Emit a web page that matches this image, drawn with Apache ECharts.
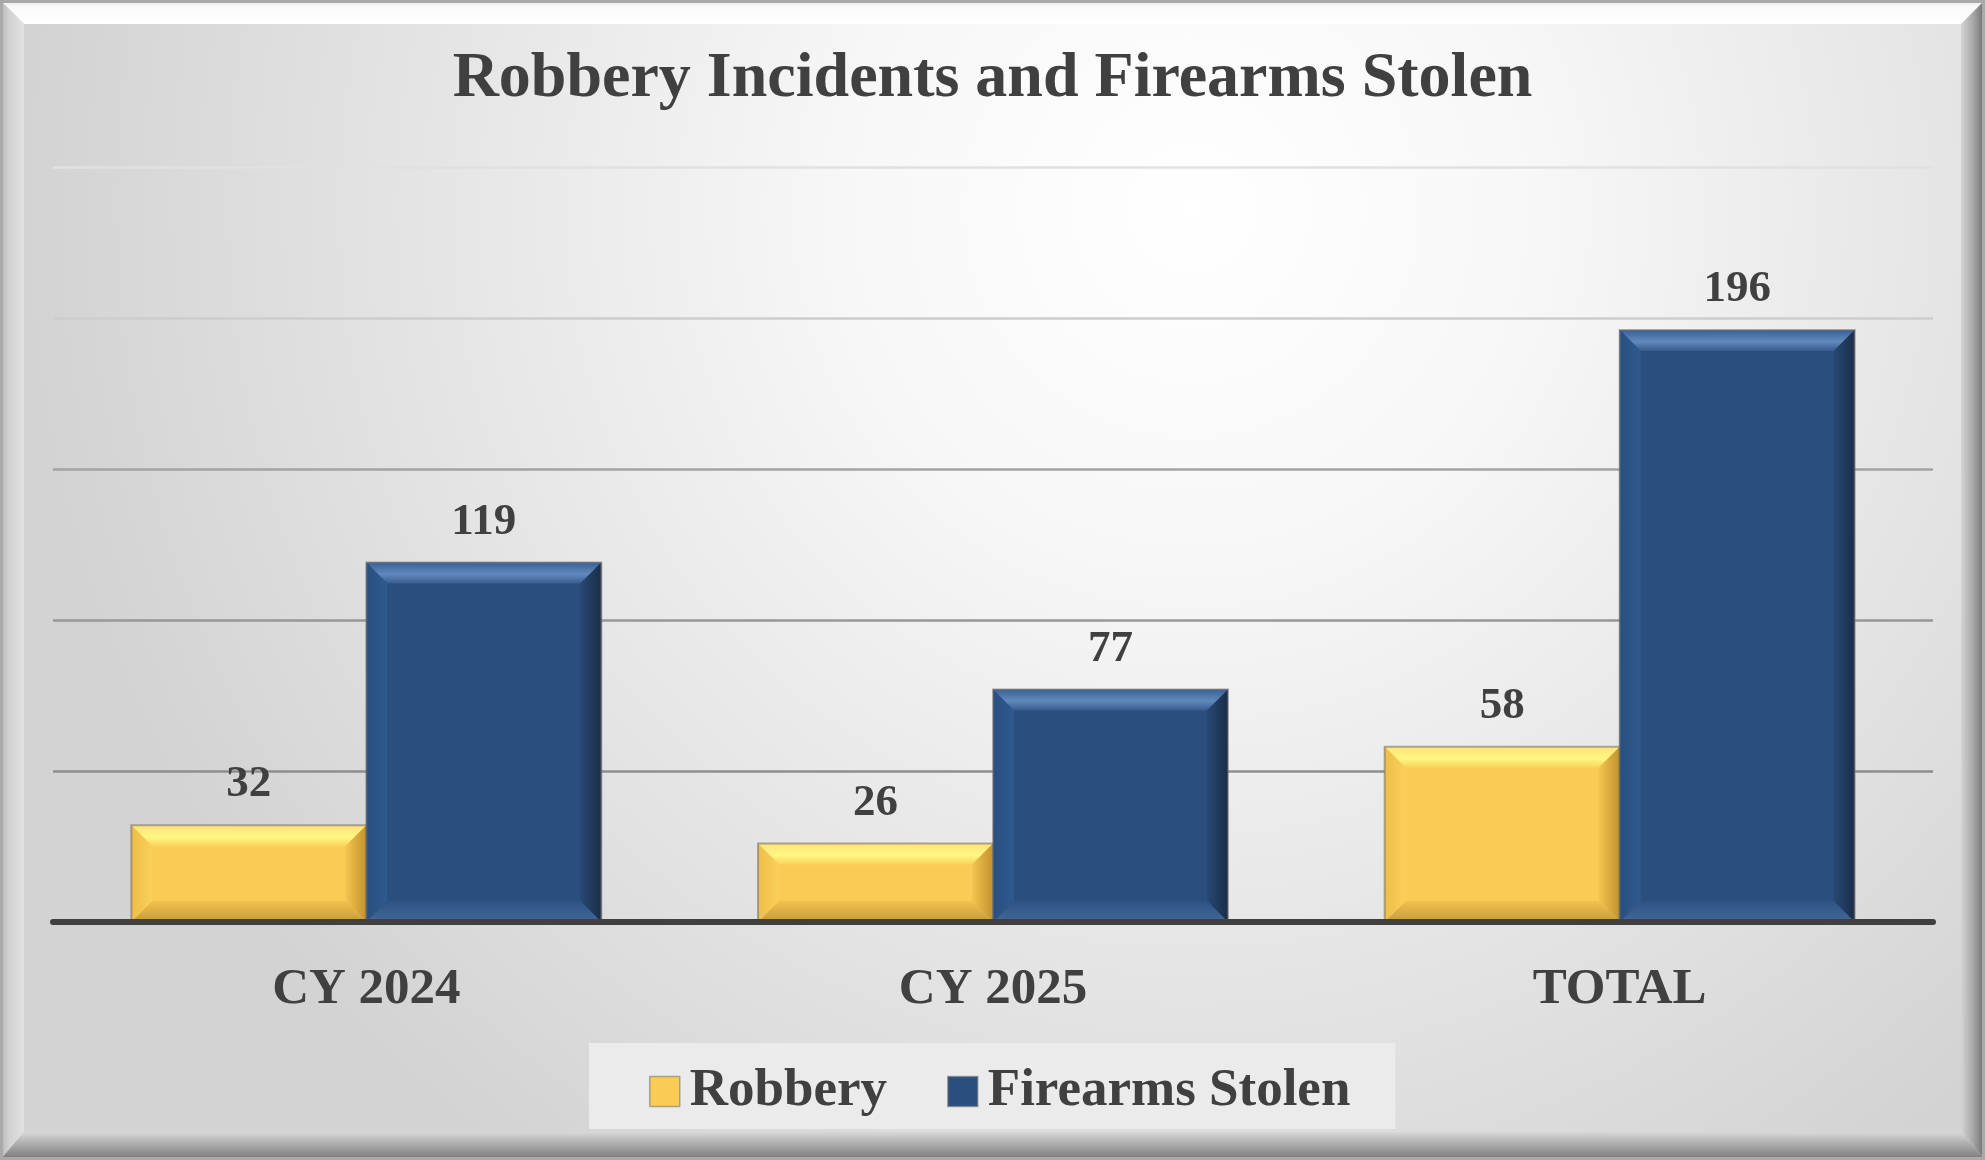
<!DOCTYPE html>
<html>
<head>
<meta charset="utf-8">
<script src="https://cdn.jsdelivr.net/npm/echarts@6/dist/echarts.min.js"></script>
<style>
html,body{margin:0;padding:0;background:#ffffff;}
#chart{width:1985px;height:1160px;}
</style>
</head>
<body>
<div id="chart"></div>
<script>
// ---- data ----
const titleText = 'Robbery Incidents and Firearms Stolen';
const categories = ['CY 2024', 'CY 2025', 'TOTAL'];
const seriesNames = ['Robbery', 'Firearms Stolen'];
const robbery = [32, 26, 58];
const firearmsStolen = [119, 77, 196];
const axisMax = 250;
const axisInterval = 50;

// ---- styles ----
const W = 1985, H = 1160;
const FONT = '"Liberation Serif", "DejaVu Serif", serif';
const TEXT = '#404040';
const faceColors = ['#FACC55', '#2A4E7E'];

function lin(x, y, x2, y2, stops) {
  return { type: 'linear', x: x, y: y, x2: x2, y2: y2,
    colorStops: stops.map(s => ({ offset: s[0], color: s[1] })) };
}
const bevelStyles = [
  { // yellow
    top: lin(0, 0, 0, 1, [[0, '#FFE27A'], [0.55, '#FFF784'], [1, '#F9D35A']]),
    left: lin(0, 0, 1, 0, [[0, '#EDBD48'], [1, '#FBD05A']]),
    right: lin(0, 0, 1, 0, [[0, '#F3C650'], [1, '#C2922E']]),
    bottom: lin(0, 0, 0, 1, [[0, '#F0C24E'], [1, '#C99A38']])
  },
  { // blue
    top: lin(0, 0, 0, 1, [[0, '#3A6196'], [0.55, '#6289BE'], [1, '#365B8D']]),
    left: lin(0, 0, 1, 0, [[0, '#2A4F80'], [1, '#2F5A8E']]),
    right: lin(0, 0, 1, 0, [[0, '#284873'], [1, '#1A2D48']]),
    bottom: lin(0, 0, 0, 1, [[0, '#2D5383'], [1, '#43679A']])
  }
];

function bevelRenderer(sIdx) {
  return function (params, api) {
    const idx = api.value(0), val = api.value(1);
    const top = api.coord([idx, val]);
    const base = api.coord([idx, 0]);
    const band = api.size([1, 0])[0];
    const bw = band * 0.375;
    const x0 = sIdx === 0 ? top[0] - bw : top[0];
    const x1 = x0 + bw;
    const y0 = top[1], y1 = base[1];
    const b = Math.min(21, (y1 - y0) / 2, bw / 2);
    const st = bevelStyles[sIdx];
    return {
      type: 'group',
      children: [
        { type: 'polygon', shape: { points: [[x0, y0], [x1, y0], [x1 - b, y0 + b], [x0 + b, y0 + b]] }, style: { fill: st.top } },
        { type: 'polygon', shape: { points: [[x0, y0], [x0 + b, y0 + b], [x0 + b, y1 - b], [x0, y1]] }, style: { fill: st.left } },
        { type: 'polygon', shape: { points: [[x1, y0], [x1, y1], [x1 - b, y1 - b], [x1 - b, y0 + b]] }, style: { fill: st.right } },
        { type: 'polygon', shape: { points: [[x0, y1], [x0 + b, y1 - b], [x1 - b, y1 - b], [x1, y1]] }, style: { fill: st.bottom } },
        { type: 'rect', shape: { x: x0, y: y0, width: bw, height: y1 - y0 }, style: { fill: 'none', stroke: 'rgba(110,110,110,0.55)', lineWidth: 2 } }
      ]
    };
  };
}

// frame graphics
const fw = 24, fb = 28;
const frame = [
  { type: 'rect', z: -30, shape: { x: 0, y: 0, width: W, height: H },
    style: { fill: { type: 'radial', x: 0.6, y: 0.18, r: 1.0,
      colorStops: [{ offset: 0, color: '#ffffff' }, { offset: 0.3, color: '#f7f7f7' }, { offset: 0.75, color: '#e0e0e0' }, { offset: 1, color: '#d3d3d3' }] } } },
  { type: 'polygon', z: -20, shape: { points: [[0, 0], [W, 0], [W - fw, fw], [fw, fw]] },
    style: { fill: lin(0, 0, 0, 1, [[0, '#e6e6e6'], [0.3, '#fafafa'], [1, '#ffffff']]) } },
  { type: 'polygon', z: -20, shape: { points: [[0, 0], [fw, fw], [fw, H - fb], [0, H]] },
    style: { fill: lin(0, 0, 1, 0, [[0, '#b8b8b8'], [0.4, '#d2d2d2'], [1, '#e2e2e2']]) } },
  { type: 'polygon', z: -20, shape: { points: [[W, 0], [W, H], [W - fw, H - fb], [W - fw, fw]] },
    style: { fill: lin(0, 0, 1, 0, [[0, '#d4d4d4'], [0.5, '#a8a8a8'], [1, '#6a6a6a']]) } },
  { type: 'polygon', z: -20, shape: { points: [[0, H], [fw, H - fb], [W - fw, H - fb], [W, H]] },
    style: { fill: lin(0, 0, 0, 1, [[0, '#d8d8d8'], [0.5, '#a6a6a6'], [1, '#777777']]) } },
  { type: 'rect', z: -10, shape: { x: 1.5, y: 1.5, width: W - 3, height: H - 3 },
    style: { fill: 'none', stroke: '#a9a9a9', lineWidth: 3 } }
];

const chart = echarts.init(document.getElementById('chart'), null, { renderer: 'canvas' });
chart.setOption({
  backgroundColor: 'transparent',
  animation: false,
  textStyle: { fontFamily: FONT },
  graphic: { elements: frame },
  title: {
    text: titleText,
    left: 'center',
    top: 42,
    textStyle: { fontFamily: FONT, fontWeight: 'bold', fontSize: 64, lineHeight: 64, color: TEXT }
  },
  legend: {
    data: seriesNames,
    left: 589,
    top: 1043,
    backgroundColor: '#ebebeb',
    padding: [22, 45, 11, 60],
    itemWidth: 30,
    itemHeight: 30,
    itemGap: 60,
    icon: 'rect',
    itemStyle: { borderColor: 'rgba(120,120,120,0.6)', borderWidth: 1.5 },
    textStyle: { fontFamily: FONT, fontWeight: 'bold', fontSize: 53, lineHeight: 52, color: TEXT, padding: [0, 0, 0, 5] }
  },
  grid: { left: 53, right: 52, top: 167, bottom: 238, containLabel: false },
  xAxis: {
    type: 'category',
    data: categories,
    axisLine: { show: true, lineStyle: { color: '#404040', width: 6 } },
    axisTick: { show: false },
    axisLabel: { margin: 42, fontFamily: FONT, fontWeight: 'bold', fontSize: 51, lineHeight: 51, color: TEXT },
    z: 5
  },
  yAxis: {
    type: 'value',
    min: 0,
    max: axisMax,
    interval: axisInterval,
    axisLine: { show: false },
    axisTick: { show: false },
    axisLabel: { show: false },
    splitLine: { lineStyle: { width: 2.5, color: ['#404040', '#8e8e8e', '#979797', '#a3a3a3', '#cdcdcd', '#e1e1e1'] } }
  },
  series: [
    {
      name: seriesNames[0], type: 'bar', data: robbery,
      barGap: '0%', barCategoryGap: '25%',
      itemStyle: { color: faceColors[0] },
      label: { show: true, position: 'top', distance: 18, fontFamily: FONT, fontWeight: 'bold', fontSize: 45, lineHeight: 45, color: TEXT },
      z: 2
    },
    {
      name: seriesNames[1], type: 'bar', data: firearmsStolen,
      barGap: '0%', barCategoryGap: '25%',
      itemStyle: { color: faceColors[1] },
      label: { show: true, position: 'top', distance: 18, fontFamily: FONT, fontWeight: 'bold', fontSize: 45, lineHeight: 45, color: TEXT },
      z: 2
    },
    {
      name: 'bevel-robbery', type: 'custom', silent: true, z: 3,
      data: robbery.map((v, i) => [i, v]),
      renderItem: bevelRenderer(0)
    },
    {
      name: 'bevel-firearms', type: 'custom', silent: true, z: 3,
      data: firearmsStolen.map((v, i) => [i, v]),
      renderItem: bevelRenderer(1)
    }
  ]
});
</script>
</body>
</html>
